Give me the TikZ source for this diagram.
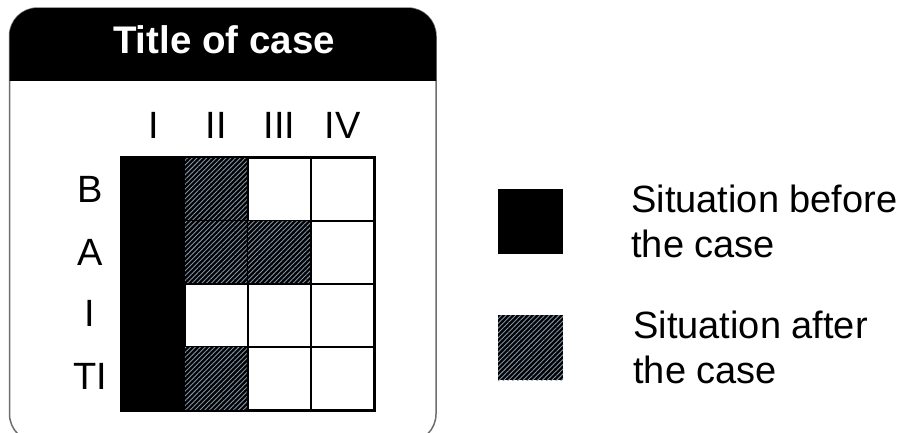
\documentclass[tikz,border=0pt]{standalone}
\usepackage{fontspec}
\setmainfont{Liberation Sans}
\usetikzlibrary{positioning,patterns.meta}
\definecolor{hatchblue}{RGB}{130,150,170}
\definecolor{framegray}{RGB}{110,110,110}
\tikzset{
  cell/.style = {draw=black, line width=2.2pt, minimum size=63pt,
    inner sep=0pt, fill=white},% empty cell
  before/.style = {cell, fill=black},% situation before
  after/.style = {cell, fill=black,
    postaction={pattern={Lines[angle=45,distance=3.4pt,line width=0.9pt]},
      pattern color=hatchblue}},% situation after
  lbl/.style = {inner sep=0pt, font=\fontsize{38}{45}\selectfont},
  legtext/.style = {lbl, align=left, anchor=west}
}

\begin{document}
\begin{tikzpicture}[x=1pt,y=-1pt]
        \useasboundingbox (0,0) rectangle (910,432);
        % frame and title band
        \begin{scope}
          \clip (0,0) rectangle (910,432);
          \draw[framegray, line width=1.5pt, rounded corners=28pt] (9.5,8) rectangle (436,442);
          \clip (0,0) rectangle (910,80);
          \fill[black, rounded corners=28pt] (9.5,8) rectangle (436,140);
        \end{scope}
        \node [lbl, white, font=\fontsize{38.5}{45}\selectfont\bfseries] (title) at (224,40) {Title of case};

        % column I, all rows
        \node [before, minimum height=252pt] (cI) at (153.5,284) {};
        % row B
        \node [after] (cBii) at (216.5,189.5) {};
        \node [cell] (cBiii) at (279.5,189.5) {};
        \node [cell] (cBiv) at (342.5,189.5) {};
        % row A
        \node [after] (cAii) at (216.5,252.5) {};
        \node [after] (cAiii) at (279.5,252.5) {};
        \node [cell] (cAiv) at (342.5,252.5) {};
        % row I
        \node [cell] (cIii) at (216.5,315.5) {};
        \node [cell] (cIiii) at (279.5,315.5) {};
        \node [cell] (cIiv) at (342.5,315.5) {};
        % row TI
        \node [after] (cTii) at (216.5,378.5) {};
        \node [cell] (cTiii) at (279.5,378.5) {};
        \node [cell] (cTiv) at (342.5,378.5) {};
        \draw [line width=2.2pt] (cI.north west) rectangle (cTiv.south east);

        % headers
        \node [lbl] (hI) at (153.5,125) {I};
        \node [lbl] (hII) at (216.5,125) {II};
        \node [lbl] (hIII) at (279.5,125) {III};
        \node [lbl] (hIV) at (342.5,125) {IV};
        \node [lbl] (rB) at (90,189) {B};
        \node [lbl] (rA) at (90,252) {A};
        \node [lbl] (rI) at (90,313) {I};
        \node [lbl] (rTI) at (90,376) {TI};

        % legend
        \node [before, draw=none, minimum size=65pt] (kbefore) at (530.5,221.5) {};
        \node [after, draw=none, minimum size=65pt] (kafter) at (530.5,347.5) {};
        \node [legtext, right=67pt of kbefore] (tbefore) {Situation before\\the case};
        \node [legtext, right=69pt of kafter] (tafter) {Situation after\\the case};
\end{tikzpicture}
\end{document}
